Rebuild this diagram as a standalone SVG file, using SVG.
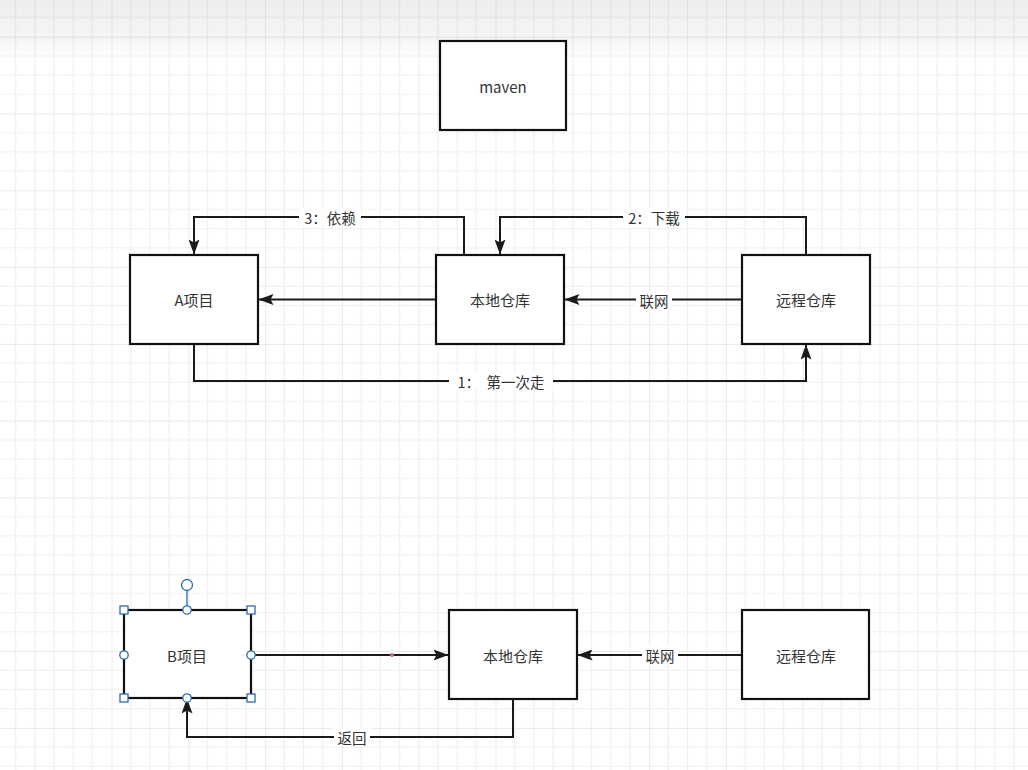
<svg xmlns="http://www.w3.org/2000/svg" width="1028" height="770" viewBox="0 0 1028 770">
<style>
.node{fill:#fff;stroke:#111;stroke-width:2.2}
.lbl{font-family:"Noto Sans CJK SC","Liberation Sans",sans-serif;font-size:15px;fill:#333;text-anchor:middle;dominant-baseline:central}
.edge{fill:none;stroke:#1a1a1a;stroke-width:2}
.elbl{font-family:"Noto Sans CJK SC","Liberation Sans",sans-serif;font-size:14.5px;fill:#333;text-anchor:middle;dominant-baseline:central}
.lblbg{fill:#fff}
.h{fill:#fff;stroke:#2b6cb0;stroke-width:1.3}
</style>
<defs>
<pattern id="grid" patternUnits="userSpaceOnUse" x="34.7" y="36.7" width="76.8" height="76.8">
<path d="M19.2 0V76.8M38.4 0V76.8M57.6 0V76.8M0 19.2H76.8M0 38.4H76.8M0 57.6H76.8" stroke="#efefef" stroke-width="1.2" fill="none"/>
<path d="M0 0V76.8M0 0H76.8" stroke="#e2e2e2" stroke-width="1.4" fill="none"/>
</pattern>
<linearGradient id="topfade" x1="0" y1="0" x2="0" y2="1">
<stop offset="0" stop-color="#000" stop-opacity="0.07"/>
<stop offset="0.6" stop-color="#000" stop-opacity="0.04"/>
<stop offset="1" stop-color="#000" stop-opacity="0"/>
</linearGradient>
<marker id="arr" viewBox="0 0 15 11" refX="14.5" refY="5.5" markerWidth="15" markerHeight="11" orient="auto" markerUnits="userSpaceOnUse">
<path d="M0 0L15 5.5L0 11L3 5.5z" fill="#1a1a1a"/>
</marker>
</defs>
<rect width="1028" height="770" fill="#fff"/>
<rect width="1028" height="770" fill="url(#grid)"/>
<rect width="1028" height="60" fill="url(#topfade)"/>

<g id="connectors">
<path class="edge" d="M464 255V217H194V254" marker-end="url(#arr)"/>
<path class="edge" d="M806 255V217H500V254" marker-end="url(#arr)"/>
<path class="edge" d="M436 299.5H259" marker-end="url(#arr)"/>
<path class="edge" d="M742 299.5H565" marker-end="url(#arr)"/>
<path class="edge" d="M194 344V381H806V345" marker-end="url(#arr)"/>
<path class="edge" d="M251 655H448" marker-end="url(#arr)"/>
<circle cx="392" cy="655" r="2" fill="#c86a80"/>
<path class="edge" d="M742 655H578" marker-end="url(#arr)"/>
<path class="edge" d="M513 699V737H187V699" marker-end="url(#arr)"/>
<rect class="lblbg" x="299" y="208" width="62" height="18"/>
<text class="elbl" x="330" y="217">3：依赖</text>
<rect class="lblbg" x="623" y="208" width="62" height="18"/>
<text class="elbl" x="654" y="217">2：下载</text>
<rect class="lblbg" x="636" y="291" width="36" height="18"/>
<text class="elbl" x="654" y="300">联网</text>
<rect class="lblbg" x="449" y="372" width="104" height="18"/>
<text class="elbl" x="501" y="381" xml:space="preserve">1：  第一次走</text>
<rect class="lblbg" x="642" y="646" width="36" height="18"/>
<text class="elbl" x="660" y="655">联网</text>
<rect class="lblbg" x="334" y="728" width="36" height="18"/>
<text class="elbl" x="352" y="737">返回</text>
</g>

<g id="maven">
<rect class="node" x="440" y="41" width="126" height="89"/>
<text class="lbl" x="503" y="86" font-family="Liberation Sans, sans-serif">maven</text>
</g>
<g id="a-project">
<rect class="node" x="130" y="255" width="128" height="89"/>
<text class="lbl" x="194" y="299">A项目</text>
</g>
<g id="local-repo-1">
<rect class="node" x="436" y="255" width="128" height="89"/>
<text class="lbl" x="500" y="299">本地仓库</text>
</g>
<g id="remote-repo-1">
<rect class="node" x="742" y="255" width="128" height="89"/>
<text class="lbl" x="806" y="299">远程仓库</text>
</g>
<g id="b-project">
<rect class="node" x="124" y="610" width="127" height="88" stroke="#1a1a1a"/>
<text class="lbl" x="187" y="655">B项目</text>
<line x1="187" y1="590" x2="187" y2="610" stroke="#2b6cb0" stroke-width="1.3"/>
<circle class="h" cx="187" cy="585" r="5.5"/>
<rect class="h" x="120" y="606" width="8" height="8"/>
<rect class="h" x="247" y="606" width="8" height="8"/>
<rect class="h" x="120" y="694" width="8" height="8"/>
<rect class="h" x="247" y="694" width="8" height="8"/>
<circle class="h" cx="187" cy="610" r="4.2"/>
<circle class="h" cx="187" cy="698" r="4.2"/>
<circle class="h" cx="124" cy="655" r="4.2"/>
<circle class="h" cx="251" cy="655" r="4.2"/>
</g>
<g id="local-repo-2">
<rect class="node" x="449" y="610" width="128" height="89"/>
<text class="lbl" x="513" y="655">本地仓库</text>
</g>
<g id="remote-repo-2">
<rect class="node" x="742" y="610" width="127" height="89"/>
<text class="lbl" x="806" y="655">远程仓库</text>
</g>
</svg>
